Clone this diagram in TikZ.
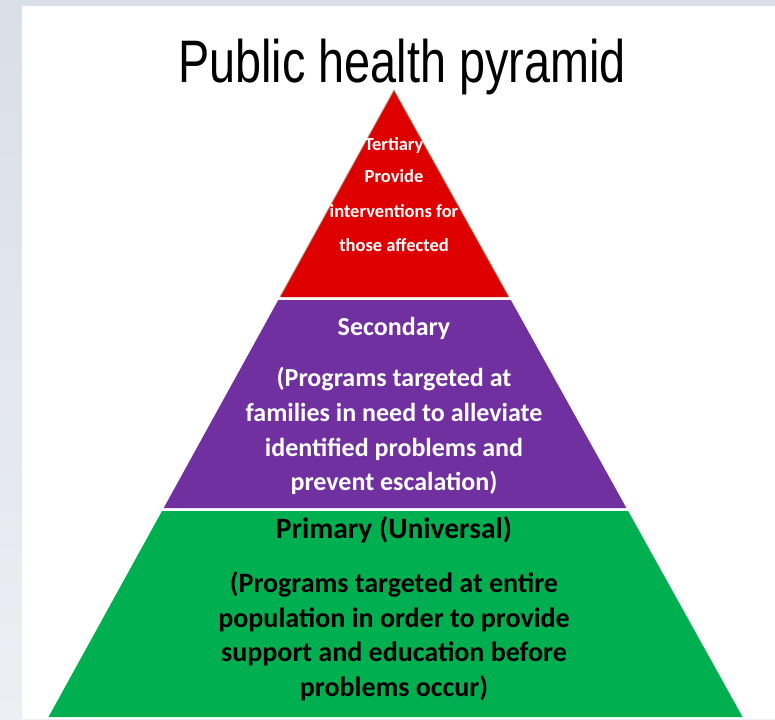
\documentclass[tikz,border=0pt]{standalone}
\usepackage{fontspec}
\setmainfont{Carlito}
\newfontfamily\titlefont{Liberation Sans}
\definecolor{bgtop}{RGB}{217,223,231}
\definecolor{bgbot}{RGB}{236,239,244}
\definecolor{tred}{RGB}{222,0,0}
\definecolor{tpurple}{RGB}{112,48,160}
\definecolor{tgreen}{RGB}{0,176,80}
\definecolor{redline}{RGB}{170,165,140}
\tikzset{
  title/.style={font=\titlefont\fontsize{60}{60}\selectfont, anchor=base, inner sep=0pt},
  redtxt/.style={font=\bfseries\fontsize{18.5}{18.5}\selectfont, text=white, anchor=base, inner sep=0pt},
  purtxt/.style={font=\bfseries\fontsize{26}{26}\selectfont, text=white, anchor=base, inner sep=0pt},
  grnhead/.style={font=\bfseries\fontsize{29.5}{29.5}\selectfont, text=black, anchor=base, inner sep=0pt},
  grntxt/.style={font=\bfseries\fontsize{28}{28}\selectfont, text=black, anchor=base, inner sep=0pt},
}
\begin{document}
\begin{tikzpicture}[x=1pt,y=-1pt]
\useasboundingbox (0,0) rectangle (775,719);
\shade[top color=bgtop, bottom color=bgbot] (0,0) rectangle (775,719);
\fill[white] (22,6) rectangle (775,719);
% title
\node[title] (ttl) at (402,83) {\scalebox{0.78}[1]{Public health pyramid}};
% layers
\fill[tred] (394,90) -- (509.1,297) -- (279.9,297) -- cycle;
\draw[redline, line width=0.8pt] (279.9,297) -- (394,90) -- (509.1,297);
\fill[tpurple] (278.3,300) -- (510.8,300) -- (626.4,508) -- (163.7,508) -- cycle;
\fill[tgreen] (162.0,511) -- (628.1,511) -- (742.6,717) -- (48.5,717) -- cycle;
% tertiary text
\node[redtxt] (t1) at (394,151) {Tertiary};
\node[redtxt] (t2) at (394,183) {Provide};
\node[redtxt] (t3) at (394,218) {interventions for};
\node[redtxt] (t4) at (394,251) {those affected};
% secondary text
\node[purtxt] (s1) at (394,335) {Secondary};
\node[purtxt] (s2) at (394,386) {(Programs targeted at};
\node[purtxt] (s3) at (394,421) {families in need to alleviate};
\node[purtxt] (s4) at (394,456) {identified problems and};
\node[purtxt] (s5) at (394,490) {prevent escalation)};
% primary text
\node[grnhead] (p1) at (394,538) {Primary (Universal)};
\node[grntxt] (p2) at (394,592) {(Programs targeted at entire};
\node[grntxt] (p3) at (394,627) {population in order to provide};
\node[grntxt] (p4) at (394,661) {support and education before};
\node[grntxt] (p5) at (394,696) {problems occur)};
\end{tikzpicture}
\end{document}
